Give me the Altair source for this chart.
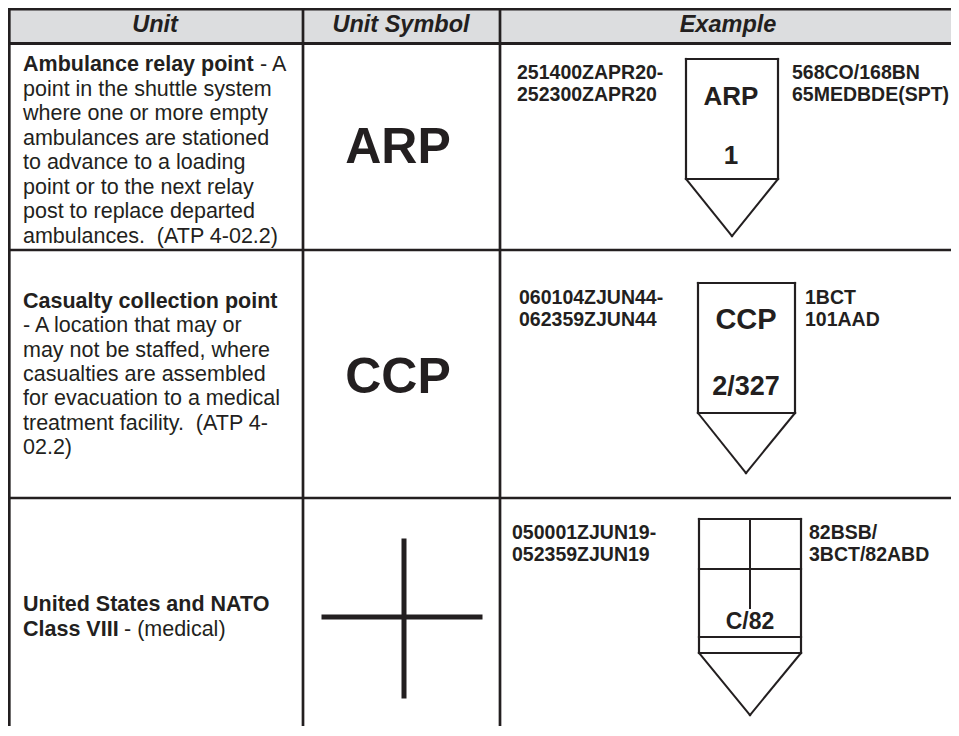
import altair as alt
import pandas as pd

# ---------------- content (values) ----------------
header_labels = ["Unit", "Unit Symbol", "Example"]
big_symbols = ["ARP", "CCP"]

row1_bold = "Ambulance relay point"
row1_rest = "- A"
row1_lines = [
    "point in the shuttle system",
    "where one or more empty",
    "ambulances are stationed",
    "to advance to a loading",
    "point or to the next relay",
    "post to replace departed",
    "ambulances.\u00a0 (ATP 4-02.2)",
]
row2_bold = "Casualty collection point"
row2_lines = [
    "- A location that may or",
    "may not be staffed, where",
    "casualties are assembled",
    "for evacuation to a medical",
    "treatment facility.\u00a0 (ATP 4-",
    "02.2)",
]
row3_bold = ["United States and NATO", "Class VIII"]
row3_rest = "- (medical)"

example_dtg = [
    ["251400ZAPR20-", "252300ZAPR20"],
    ["060104ZJUN44-", "062359ZJUN44"],
    ["050001ZJUN19-", "052359ZJUN19"],
]
example_unit = [
    ["568CO/168BN", "65MEDBDE(SPT)"],
    ["1BCT", "101AAD"],
    ["82BSB/", "3BCT/82ABD"],
]
box_top_labels = ["ARP", "CCP", ""]
box_bottom_labels = ["1", "2/327", "C/82"]

# ---------------- layout (page pixel coordinates) ----------------
W, H = 943, 718
INK = "#231f20"
FONT = "Liberation Sans"
xs = alt.Scale(domain=[8, 8 + W], nice=False, zero=False)
ys = alt.Scale(domain=[8, 8 + H], nice=False, zero=False, reverse=True)

COL_X = [9.3, 303, 500]
ROW_Y = [43.5, 250, 498]
HEAD_CX = [155, 401, 728]
DESC_X = 23
DESC_SIZE = 21.5

# table lines
table_rules = [
    dict(x=8, x2=959, y=9, y2=9, w=3),
    dict(x=8, x2=959, y=ROW_Y[0], y2=ROW_Y[0], w=3),
    dict(x=8, x2=959, y=ROW_Y[1], y2=ROW_Y[1], w=2.7),
    dict(x=8, x2=959, y=ROW_Y[2], y2=ROW_Y[2], w=2.7),
]
for cx in COL_X:
    table_rules.append(dict(x=cx, x2=cx, y=8, y2=740, w=2.7))

# example boxes: (left, right, top, bottom, apex_x, apex_y)
boxes = [
    (686, 778, 59, 179, 732, 236),
    (698, 795, 283, 413, 746, 473),
    (699, 801, 519, 653, 750, 715),
]
sym_rules = []
for (L, R, T, B, ax, ay) in boxes:
    sym_rules += [
        dict(x=L, x2=R, y=T, y2=T, w=2.2),
        dict(x=L, x2=R, y=B, y2=B, w=2.2),
        dict(x=L, x2=L, y=T, y2=B, w=2.2),
        dict(x=R, x2=R, y=T, y2=B, w=2.2),
        dict(x=L, x2=ax, y=B, y2=ay, w=2),
        dict(x=R, x2=ax, y=B, y2=ay, w=2),
    ]
# class VIII box inner lines
L, R, T, B, ax, ay = boxes[2]
sym_rules += [
    dict(x=ax, x2=ax, y=T, y2=608, w=2),
    dict(x=L, x2=R, y=569, y2=569, w=2.2),
    dict(x=L, x2=R, y=637, y2=637, w=2.2),
]
# class VIII unit symbol cross
sym_rules += [
    dict(x=404, x2=404, y=541, y2=696, w=5),
    dict(x=324, x2=480, y=617, y2=617, w=5),
]
rules_df = pd.DataFrame(table_rules + sym_rules)

# header
header_df = pd.DataFrame([dict(t=t, x=cx, y=25) for t, cx in zip(header_labels, HEAD_CX)])
header_rect_df = pd.DataFrame([dict(x=8, x2=959, y=9, y2=43.5)])

# description text
desc_bold, desc_norm = [], []
y0, dy = 65, 24.5
desc_bold.append(dict(t=row1_bold, x=DESC_X, y=y0))
desc_norm.append(dict(t=row1_rest, x=260, y=y0))
for i, t in enumerate(row1_lines):
    desc_norm.append(dict(t=t, x=DESC_X, y=y0 + dy * (i + 1)))
y0, dy = 302, 24.3
desc_bold.append(dict(t=row2_bold, x=DESC_X, y=y0))
for i, t in enumerate(row2_lines):
    desc_norm.append(dict(t=t, x=DESC_X, y=y0 + dy * (i + 1)))
desc_bold.append(dict(t=row3_bold[0], x=DESC_X, y=605))
desc_bold.append(dict(t=row3_bold[1], x=DESC_X, y=630))
desc_norm.append(dict(t=row3_rest, x=124, y=630))
desc_bold_df = pd.DataFrame(desc_bold)
desc_norm_df = pd.DataFrame(desc_norm)

# example side texts
left_x = [517, 519, 512]
right_x = [792, 805, 809]
first_y = [73, 298, 533]
ex_left = []
for k in range(3):
    for j in range(2):
        ex_left.append(dict(t=example_dtg[k][j], x=left_x[k], y=first_y[k] + 22 * j, s=19.5))
        ex_left.append(dict(t=example_unit[k][j], x=right_x[k], y=first_y[k] + 22 * j, s=19.5))
ex_left_df = pd.DataFrame(ex_left)

# centered bold: big symbols and box labels
centered = [
    dict(t=big_symbols[0], x=398, y=148, s=50),
    dict(t=big_symbols[1], x=398, y=378, s=50),
]
top_pos = [(731, 97, 26), (746, 320, 29), (750, 560, 22)]
bot_pos = [(731, 156, 26), (746, 387, 27), (750, 622, 23)]
for k in range(3):
    if box_top_labels[k]:
        x, y, s = top_pos[k]
        centered.append(dict(t=box_top_labels[k], x=x, y=y, s=s))
    x, y, s = bot_pos[k]
    centered.append(dict(t=box_bottom_labels[k], x=x, y=y, s=s))
centered_df = pd.DataFrame(centered)

X = lambda f="x": alt.X(f + ":Q", scale=xs, axis=None)
Y = lambda f="y": alt.Y(f + ":Q", scale=ys, axis=None)

header_rect = alt.Chart(header_rect_df).mark_rect(color="#dcdddf").encode(
    x=X(), x2="x2:Q", y=Y(), y2="y2:Q"
)
rules = alt.Chart(rules_df).mark_rule(color=INK, strokeCap="square").encode(
    x=X(), x2="x2:Q", y=Y(), y2="y2:Q",
    strokeWidth=alt.StrokeWidth("w:Q", scale=None),
)
header_text = alt.Chart(header_df).mark_text(
    font=FONT, fontWeight="bold", fontStyle="italic", fontSize=23.5,
    align="center", baseline="middle", color=INK,
).encode(x=X(), y=Y(), text="t:N")
desc_b = alt.Chart(desc_bold_df).mark_text(
    font=FONT, fontWeight="bold", fontSize=DESC_SIZE,
    align="left", baseline="middle", color=INK,
).encode(x=X(), y=Y(), text="t:N")
desc_n = alt.Chart(desc_norm_df).mark_text(
    font=FONT, fontSize=DESC_SIZE,
    align="left", baseline="middle", color=INK,
).encode(x=X(), y=Y(), text="t:N")
ex_text = alt.Chart(ex_left_df).mark_text(
    font=FONT, fontWeight="bold", align="left", baseline="middle", color=INK,
).encode(x=X(), y=Y(), text="t:N", size=alt.Size("s:Q", scale=None))
ctr_text = alt.Chart(centered_df).mark_text(
    font=FONT, fontWeight="bold", align="center", baseline="middle", color=INK,
).encode(x=X(), y=Y(), text="t:N", size=alt.Size("s:Q", scale=None))

chart = alt.layer(
    header_rect, rules, header_text, desc_b, desc_n, ex_text, ctr_text
).properties(
    width=W, height=H, autosize="none", padding=0, background="white"
).configure_view(strokeWidth=0)

chart.save("out.html", embed_options={"renderer": "svg", "actions": False})
